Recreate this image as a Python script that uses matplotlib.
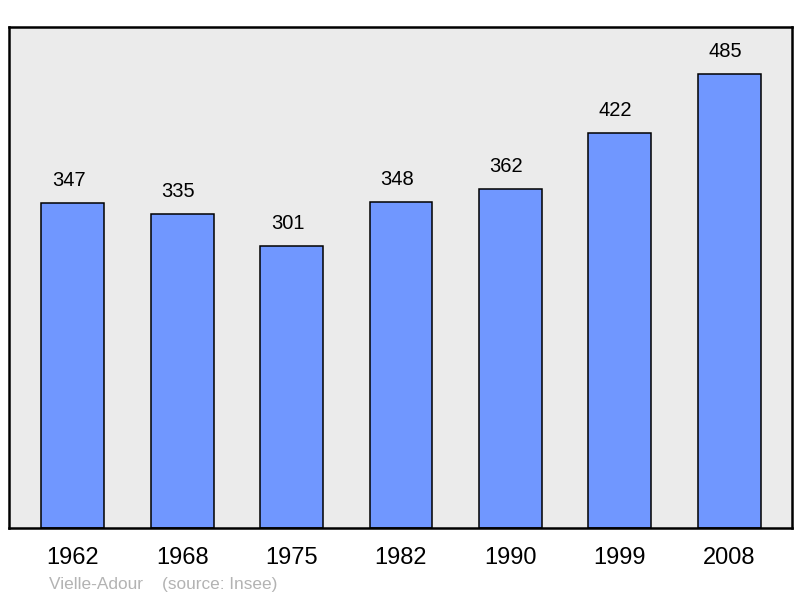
import matplotlib
matplotlib.use("Agg")
from matplotlib import pyplot as plt

years = ["1962", "1968", "1975", "1982", "1990", "1999", "2008"]
population = [347, 335, 301, 348, 362, 422, 485]

plt.rcParams['font.family'] = ['Liberation Sans', 'DejaVu Sans']

fig = plt.figure(figsize=(8, 5.98), dpi=100)
ax = fig.add_axes([9/800, 1 - 528/598, 783/800, 501/598])
ax.set_facecolor("#ebebeb")

x = range(len(years))
ax.bar(x, population, width=0.576, color="#7097ff", edgecolor="black", linewidth=1.1, zorder=2)
for xi, v in zip(x, population):
    ax.annotate(str(v), (xi, v), xytext=(-3, 9.5), textcoords="offset points",
                ha="center", va="bottom", fontsize=14.5)

ax.set_xlim(-0.585, len(years) - 1 + 0.576)
ax.set_ylim(0, 535)
ax.set_xticks(list(x))
ax.set_xticklabels(years, fontsize=17)
ax.tick_params(axis="x", length=0, pad=13.5)
ax.set_yticks([])
for s in ax.spines.values():
    s.set_linewidth(1.8)

fig.text(49/800, 1 - 585/598, "Vielle-Adour    (source: Insee)", color="#b3b3b3",
         fontsize=12.4, va="center", ha="left")

fig.savefig("out.png", dpi=100)
